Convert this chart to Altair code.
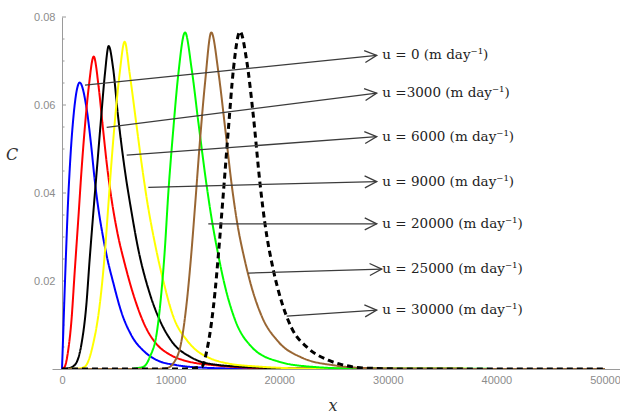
import altair as alt
import pandas as pd

# ---- curves (x, C) ----
series = ["u = 0", "u = 3000", "u = 6000", "u = 9000", "u = 20000", "u = 25000", "u = 30000"]
colors = ["#0000ff", "#ff0000", "#000000", "#ffff00", "#00ff00", "#996633", "#000000"]
dashes = [[1, 0], [1, 0], [1, 0], [1, 0], [1, 0], [1, 0], [6, 4]]
widths = [2, 2, 2, 2, 2, 2, 3]

u0_x = [0, 100, 200, 300, 420, 540, 680, 850, 1050, 1300, 1630, 2240, 2700, 3010, 3300, 3780, 4180, 4700, 5460, 6380, 7610, 8840, 10500, 13000, 16000, 20000, 50000]
u0_c = [0, 0.007, 0.0145, 0.0215, 0.0295, 0.037, 0.044, 0.051, 0.0572, 0.0625, 0.0651, 0.0596, 0.0505, 0.043, 0.0373, 0.0300, 0.0250, 0.0198, 0.013, 0.0077, 0.0039, 0.0019, 0.0009, 0.0003, 0.0001, 0, 0]

u3000_x = [0, 250, 550, 860, 1170, 1540, 1780, 2090, 2460, 2920, 3380, 3780, 4180, 4600, 5100, 5770, 6690, 7610, 8840, 9640, 11170, 14250, 17300, 22000, 50000]
u3000_c = [0, 0.0005, 0.0039, 0.0107, 0.0221, 0.0355, 0.0445, 0.0545, 0.064, 0.071, 0.064, 0.0545, 0.0455, 0.038, 0.031, 0.024, 0.016, 0.010, 0.0053, 0.0037, 0.002, 0.0008, 0.0003, 0.0001, 0]

u6000_x = [0, 500, 1170, 1780, 2240, 2550, 2900, 3250, 3600, 3950, 4300, 4700, 5160, 5770, 6380, 7000, 8100, 9020, 10250, 11790, 13320, 17300, 22000, 50000]
u6000_c = [0, 0.0001, 0.0009, 0.0055, 0.0145, 0.025, 0.036, 0.0465, 0.057, 0.067, 0.0734, 0.0685, 0.0575, 0.0455, 0.036, 0.0275, 0.017, 0.011, 0.0058, 0.0028, 0.0013, 0.0004, 0.0001, 0]

u9000_x = [0, 1500, 2090, 2850, 3470, 3930, 4270, 4480, 4850, 5310, 5770, 6230, 6840, 7370, 7850, 8560, 9330, 10250, 11480, 12250, 13320, 15200, 18400, 23000, 50000]
u9000_c = [0, 0.0001, 0.0005, 0.0055, 0.0145, 0.0259, 0.0373, 0.0445, 0.0558, 0.0672, 0.0744, 0.0672, 0.0558, 0.046, 0.038, 0.0285, 0.020, 0.0119, 0.0066, 0.0045, 0.0028, 0.0013, 0.0005, 0.0001, 0]

u20000_x = [0, 6000, 7490, 8100, 8720, 9100, 9450, 9790, 10250, 10710, 11330, 11950, 12560, 13330, 13790, 14400, 15010, 15930, 17470, 19920, 23000, 27000, 50000]
u20000_c = [0, 0, 0.0005, 0.0028, 0.0081, 0.016, 0.0265, 0.040, 0.0545, 0.067, 0.0765, 0.068, 0.056, 0.0415, 0.034, 0.0258, 0.0188, 0.0112, 0.005, 0.0017, 0.0005, 0.0001, 0]

u25000_x = [0, 8500, 9640, 10250, 11020, 11480, 11900, 12250, 12710, 13170, 13750, 14400, 15010, 15620, 16080, 16850, 17470, 18390, 19920, 22070, 25140, 28000, 32000, 50000]
u25000_c = [0, 0, 0.0002, 0.0013, 0.0066, 0.015, 0.026, 0.037, 0.052, 0.065, 0.0765, 0.0675, 0.055, 0.042, 0.034, 0.0245, 0.0185, 0.012, 0.0062, 0.0026, 0.0008, 0.0002, 0, 0]

u30000_x = [0, 11000, 12860, 13320, 13790, 14090, 14400, 14860, 15320, 15780, 16390, 17010, 17620, 18240, 18690, 19460, 20230, 21150, 22680, 24520, 25760, 28000, 32000, 50000]
u30000_c = [0, 0, 0.0005, 0.004, 0.011, 0.0175, 0.026, 0.040, 0.0545, 0.068, 0.0767, 0.070, 0.0575, 0.042, 0.033, 0.0225, 0.0152, 0.0093, 0.0047, 0.002, 0.001, 0.0002, 0, 0]

all_x = [u0_x, u3000_x, u6000_x, u9000_x, u20000_x, u25000_x, u30000_x]
all_c = [u0_c, u3000_c, u6000_c, u9000_c, u20000_c, u25000_c, u30000_c]

# ---- annotation leaders ----
lead_x1 = [2118, 4116, 5958, 7947, 13470, 17150, 20690]
lead_y1 = [0.0645, 0.0549, 0.0486, 0.0413, 0.0330, 0.0218, 0.0120]
lead_x2 = [28980, 28980, 28980, 28980, 28980, 29440, 28980]
lead_y2 = [0.0713, 0.0627, 0.0528, 0.0426, 0.0330, 0.0227, 0.0134]
arrow_angle = [354.2, 352.8, 355.7, 358.6, 0, 358.3, 356.2]
labels = ["u = 0 (m day⁻¹)", "u =3000 (m day⁻¹)", "u = 6000 (m day⁻¹)", "u = 9000 (m day⁻¹)",
          "u = 20000 (m day⁻¹)", "u = 25000 (m day⁻¹)", "u = 30000 (m day⁻¹)"]
label_x = [29500] * 7

x_ticks = [0, 10000, 20000, 30000, 40000, 50000]
y_ticks = [0.02, 0.04, 0.06, 0.08]
y_minor = [i * 0.005 for i in range(1, 17)]

xs = alt.Scale(domain=[-920, 51380], nice=False, zero=False)
ys = alt.Scale(domain=[0, 0.08], nice=False)

label_font = "Liberation Sans"
tick_col = "#8c8c8c"

base_axes = alt.Chart(pd.DataFrame({"x": [0], "c": [0]})).mark_point(opacity=0).encode(
    x=alt.X("x:Q", scale=xs, title=None,
            axis=alt.Axis(values=x_ticks, format="d", ticks=False, grid=False, labelPadding=5,
                          labelFont=label_font, labelFontSize=11, labelColor=tick_col,
                          domainColor="#9a9a9a", domainWidth=1, labelFlush=False)),
    y=alt.Y("c:Q", scale=ys, title=None,
            axis=alt.Axis(values=y_ticks, format=".2f", ticks=False, grid=False, labelPadding=7,
                          offset=-10, labelFont=label_font, labelFontSize=11, labelColor=tick_col,
                          domainColor="#9a9a9a", domainWidth=1)),
)

tick_df = pd.DataFrame({"v": y_minor, "major": [abs(v / 0.02 - round(v / 0.02)) < 1e-6 for v in y_minor]})
minor_ticks = alt.Chart(tick_df[~tick_df["major"]]).mark_rule(color="#9a9a9a", strokeWidth=1).encode(
    y=alt.Y("v:Q", scale=ys), x=alt.value(10), x2=alt.value(12.5))
major_ticks = alt.Chart(tick_df[tick_df["major"]]).mark_rule(color="#9a9a9a", strokeWidth=1).encode(
    y=alt.Y("v:Q", scale=ys), x=alt.value(10), x2=alt.value(14))

layers = [base_axes, minor_ticks, major_ticks]
for name, xv, cv, col, dash, w in zip(series, all_x, all_c, colors, dashes, widths):
    df = pd.DataFrame({"x": xv, "c": cv})
    layers.append(
        alt.Chart(df).mark_line(color=col, strokeWidth=w, strokeDash=dash, interpolate="monotone",
                                clip=True).encode(
            x=alt.X("x:Q", scale=xs), y=alt.Y("c:Q", scale=ys), order="x:Q")
    )

ann = pd.DataFrame({"x1": lead_x1, "y1": lead_y1, "x2": lead_x2, "y2": lead_y2,
                    "ang": arrow_angle, "lab": labels, "lx": label_x})
leaders = alt.Chart(ann).mark_rule(color="#3c3c3c", strokeWidth=1.3).encode(
    x=alt.X("x1:Q", scale=xs), y=alt.Y("y1:Q", scale=ys), x2="x2:Q", y2="y2:Q")
heads = alt.Chart(ann).mark_point(shape="M-1,-0.5L0,0L-1,0.5", filled=False, size=576,
                                  color="#3c3c3c", strokeWidth=1.3, opacity=1).encode(
    x=alt.X("x2:Q", scale=xs), y=alt.Y("y2:Q", scale=ys), angle=alt.Angle("ang:Q", scale=None))
texts = alt.Chart(ann).mark_text(align="left", baseline="middle", font="DejaVu Serif",
                                 fontSize=13.5, color="#222222").encode(
    x=alt.X("lx:Q", scale=xs), y=alt.Y("y2:Q", scale=ys), text="lab:N")

ytitle = alt.Chart(pd.DataFrame({"t": ["C"]})).mark_text(font="DejaVu Serif", fontStyle="italic", fontSize=16,
                                       color="#333333", align="center", baseline="middle").encode(
    x=alt.value(-40), y=alt.value(138), text="t:N")
xtitle = alt.Chart(pd.DataFrame({"t": ["x"]})).mark_text(font="DejaVu Serif", fontStyle="italic", fontSize=16,
                                       color="#333333", align="center", baseline="middle").encode(
    x=alt.value(281), y=alt.value(389), text="t:N")

layers += [leaders, heads, texts, ytitle, xtitle]

chart = alt.layer(*layers).properties(
    width=568, height=352,
    padding={"left": 52, "top": 17, "right": 0, "bottom": 45},
    autosize=alt.AutoSizeParams(type="none"),
    background="white",
).configure_view(stroke=None)

chart.save("out.html", embed_options={"renderer": "svg", "actions": False})
